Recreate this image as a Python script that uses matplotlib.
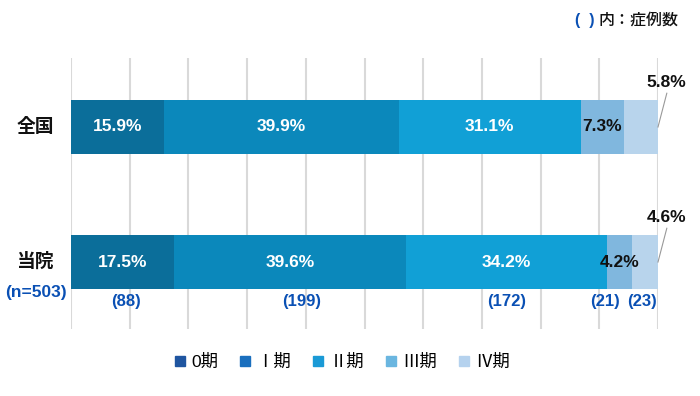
import numpy as np
import matplotlib.pyplot as plt
from matplotlib.lines import Line2D

plt.rcParams['font.family'] = ['Liberation Sans', 'Noto Sans CJK JP', 'DejaVu Sans']

groups = ["全国", "当院"]
stages = ["0期", "Ⅰ期", "Ⅱ期", "Ⅲ期", "Ⅳ期"]
zenkoku = [15.9, 39.9, 31.1, 7.3, 5.8]
touin = [17.5, 39.6, 34.2, 4.2, 4.6]
touin_counts = [88, 199, 172, 21, 23]
n_total = 503

bar_colors = ["#0b6e9a", "#0b88bb", "#11a0d6", "#80b7de", "#b8d4ec"]
legend_colors = ["#1f55a0", "#1a6fbe", "#1a9ad6", "#6ab6e0", "#b5d2ee"]
label_colors = ["white", "white", "white", "#111111", "#111111"]
count_blue = "#0a50b4"

fig = plt.figure(figsize=(7, 3.96), dpi=100)
ax = fig.add_axes([71 / 700, 67 / 396, 587 / 700, 271 / 396])

data = [zenkoku, touin]
for yi, vals in enumerate(data):
    left = 0
    for si, v in enumerate(vals):
        ax.barh(yi, v, left=left, height=0.4, color=bar_colors[si], zorder=2)
        c = left + v / 2
        if si < 4:
            ax.text(c, yi, f"{v}%", ha="center", va="center", fontsize=12.5,
                    fontweight="bold", color=label_colors[si], zorder=3)
        else:
            # small last segment: label above with leader line
            ax.plot([100, 101.5], [yi, yi - 0.25], color="#999999", lw=0.8,
                    zorder=3, clip_on=False)
            ax.text(101.4, yi - 0.33, f"{v}%", ha="center", va="center",
                    fontsize=12.5, fontweight="bold", color="#111111",
                    clip_on=False)
        left += v

# case counts under 当院
left = 0
count_shift = [0.7, 2.0, 0, -2.5, -0.5]
for si, (v, cnt) in enumerate(zip(touin, touin_counts)):
    c = left + v / 2 + count_shift[si]
    ax.text(c, 1.29, f"({cnt})", ha="center", va="center", fontsize=12,
            fontweight="bold", color=count_blue)
    left += v

for x in range(0, 101, 10):
    ax.axvline(x, color="#d9d9d9", lw=1.5, zorder=1)

ax.set_xlim(0, 100)
ax.set_ylim(1.496, -0.511)
ax.axis("off")

fig.text(35 / 700, 1 - 127 / 396, groups[0], ha="center", va="center",
         fontsize=13.5, fontweight="bold", color="#111111")
fig.text(35 / 700, 1 - 262 / 396, groups[1], ha="center", va="center",
         fontsize=13.5, fontweight="bold", color="#111111")
fig.text(36 / 700, 1 - 293 / 396, f"(n={n_total})", ha="center", va="center",
         fontsize=12.5, fontweight="bold", color=count_blue)

# note top right
fig.text(575 / 700, 1 - 20 / 396, "(  )", ha="left", va="center",
         fontsize=11.5, fontweight="bold", color=count_blue)
fig.text(598 / 700, 1 - 20 / 396, "内：症例数", ha="left", va="center",
         fontsize=11.5, fontweight="medium", color="#111111")

handles = [Line2D([], [], marker="s", linestyle="none", markersize=7,
                  color=c) for c in legend_colors]
fig.legend(handles, stages, loc="center", bbox_to_anchor=(0.489, 1 - 362 / 396),
           ncol=5, frameon=False, handlelength=0.6, handletextpad=0.35,
           columnspacing=1.25, fontsize=12.5)

fig.savefig("out.png", dpi=100)
